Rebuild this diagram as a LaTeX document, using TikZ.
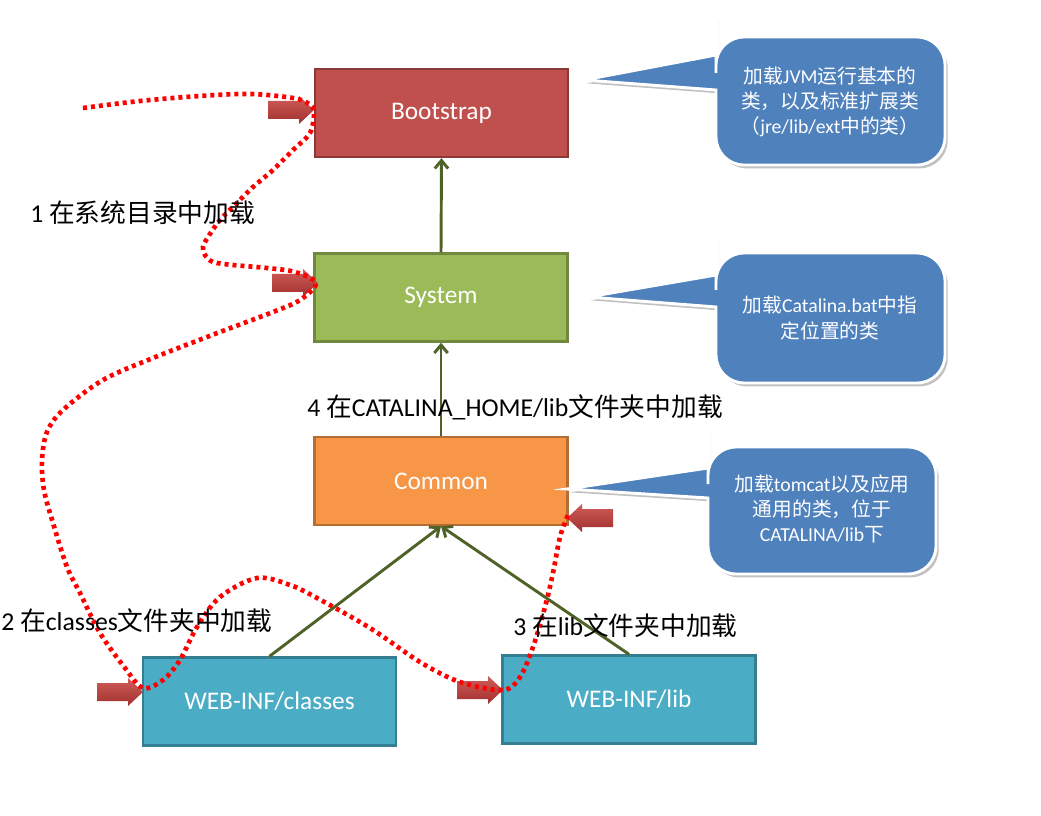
\documentclass[tikz,border=0pt]{standalone}
\usepackage{fontspec}
\setmainfont{Carlito}
\newfontfamily\cjk{Noto Sans CJK SC}
\usetikzlibrary{shadows,arrows.meta}
\definecolor{bootfill}{HTML}{C0504D}\definecolor{bootline}{HTML}{8C3836}
\definecolor{sysfill}{HTML}{9BBB59}\definecolor{sysline}{HTML}{71893F}
\definecolor{comfill}{HTML}{F79646}\definecolor{comline}{HTML}{B66D31}
\definecolor{webfill}{HTML}{4BACC6}\definecolor{webline}{HTML}{357D91}
\definecolor{callblue}{HTML}{4F81BD}
\definecolor{greenarr}{HTML}{4F6228}
\definecolor{arrtop}{HTML}{D05C59}
\definecolor{arrbot}{HTML}{A0302E}
\definecolor{dotred}{HTML}{FF0000}
\newcommand\zh[1]{{\cjk #1}}
\tikzset{
  box/.style={draw, line width=1.8pt, minimum width=190pt, minimum height=66pt,
    text=white, font=\fontsize{19}{23}\selectfont, inner sep=0pt},
  garrow/.style={draw=greenarr, line width=2.2pt, -{Straight Barb[length=6pt,width=10pt]}},
  callout/.style={fill=callblue, draw=white, line width=2.2pt,
    drop shadow={shadow xshift=2pt, shadow yshift=-2.5pt, opacity=0.35, fill=black!70}},
  calltext/.style={text=white, align=center, font=\fontsize{14.8}{19}\selectfont, inner sep=0pt},
  lbl/.style={text=black, anchor=west, font=\fontsize{19.3}{23}\selectfont, inner sep=0pt},
  dotline/.style={draw=dotred, line width=3.5pt, dash pattern=on 3pt off 3pt},
  redarrow/.pic={\path[top color=arrtop, bottom color=arrbot]
     (-46,-9) -- (-15,-9) -- (-15,-14) -- (0,0) -- (-15,14) -- (-15,9) -- (-46,9) -- cycle;}
}
\begin{document}
\begin{tikzpicture}[x=0.75pt, y=-0.75pt]
\useasboundingbox (0,0) rectangle (1041,816);

% boxes
\node[box, fill=bootfill, draw=bootline] (boot) at (441.5,113) {Bootstrap};
\node[box, fill=sysfill, draw=sysline] (sys) at (441,297.5) {System};
\node[box, fill=comfill, draw=comline] (com) at (441,481) {Common};
\node[box, fill=webfill, draw=webline] (cls) at (269.5,701.5) {WEB-INF/classes};
\node[box, fill=webfill, draw=webline] (lib) at (629,699.5) {WEB-INF/lib};

% green arrows
\draw[garrow] (sys.north) -- (boot.south);
\draw[garrow] (com.north) -- (sys.south);
\draw[garrow] (cls.north) -- (com.south);
\draw[garrow] (lib.north) -- (com.south);

% callouts
\draw[callout] (584,80) -- (716,90) -- (716,100) [rounded corners=21pt] -- (716,165) -- (945,165) -- (945,37) -- (716,37) -- (716,45) [sharp corners] -- (716,55) -- cycle;
\node[calltext] (c1) at (830,102) {\zh{加载}JVM\zh{运行基本的}\\\zh{类，以及标准扩展类}\\\zh{（}jre/lib/ext\zh{中的类）}};

\draw[callout] (588,297) -- (716,307) -- (716,317) [rounded corners=21pt] -- (716,383) -- (945,383) -- (945,253) -- (716,253) -- (716,262) [sharp corners] -- (716,275) -- cycle;
\node[calltext] (c2) at (830,318) {\zh{加载}Catalina.bat\zh{中指}\\\zh{定位置的类}};

\draw[callout] (567,489) -- (708,498) -- (708,508) [rounded corners=21pt] -- (708,574) -- (936,574) -- (936,447) -- (708,447) -- (708,456) [sharp corners] -- (708,468) -- cycle;
\node[calltext] (c3) at (822,509) {\zh{加载}tomcat\zh{以及应用}\\\zh{通用的类，位于}\\CATALINA/lib\zh{下}};

% red block arrows
\pic at (314,110) {redarrow};
\pic at (318,283) {redarrow};
\pic at (143,692) {redarrow};
\pic at (503,690) {redarrow};
\pic[xscale=-1] at (567,518) {redarrow};

% dotted path
\draw[dotline] plot[smooth, tension=0.55] coordinates {
 (83,108) (140,101) (200,96) (250,94) (293,98) (309,104) (314,112) (310,133)
 (293,150) (273,170) (253,187) (237,203) (220,220) (208,237) (203,247) (205,255)
 (213,262) (233,265) (267,268) (295,272) (316,283)
 (300,300) (273,312) (220,332) (153,358) (103,380) (63,410) (47,432) (42,460)
 (44,490) (53,523) (67,567) (80,593) (100,633) (125,668) (143,688)
 (163,680) (180,660) (197,627) (220,597) (257,578) (290,585) (317,598) (370,628)
 (420,662) (460,682) (503,690)
 (520,677) (533,647) (545,607) (553,573) (560,537) (568,515)};

% labels
\node[lbl] (l1) at (30,213) {1 \zh{在系统目录中加载}};
\node[lbl] (l4) at (307,407) {4 \zh{在}CATALINA\_HOME/lib\zh{文件夹中加载}};
\node[lbl] (l2) at (1,621) {2 \zh{在}classes\zh{文件夹中加载}};
\node[lbl] (l3) at (513,626) {3 \zh{在}lib\zh{文件夹中加载}};
\end{tikzpicture}
\end{document}
